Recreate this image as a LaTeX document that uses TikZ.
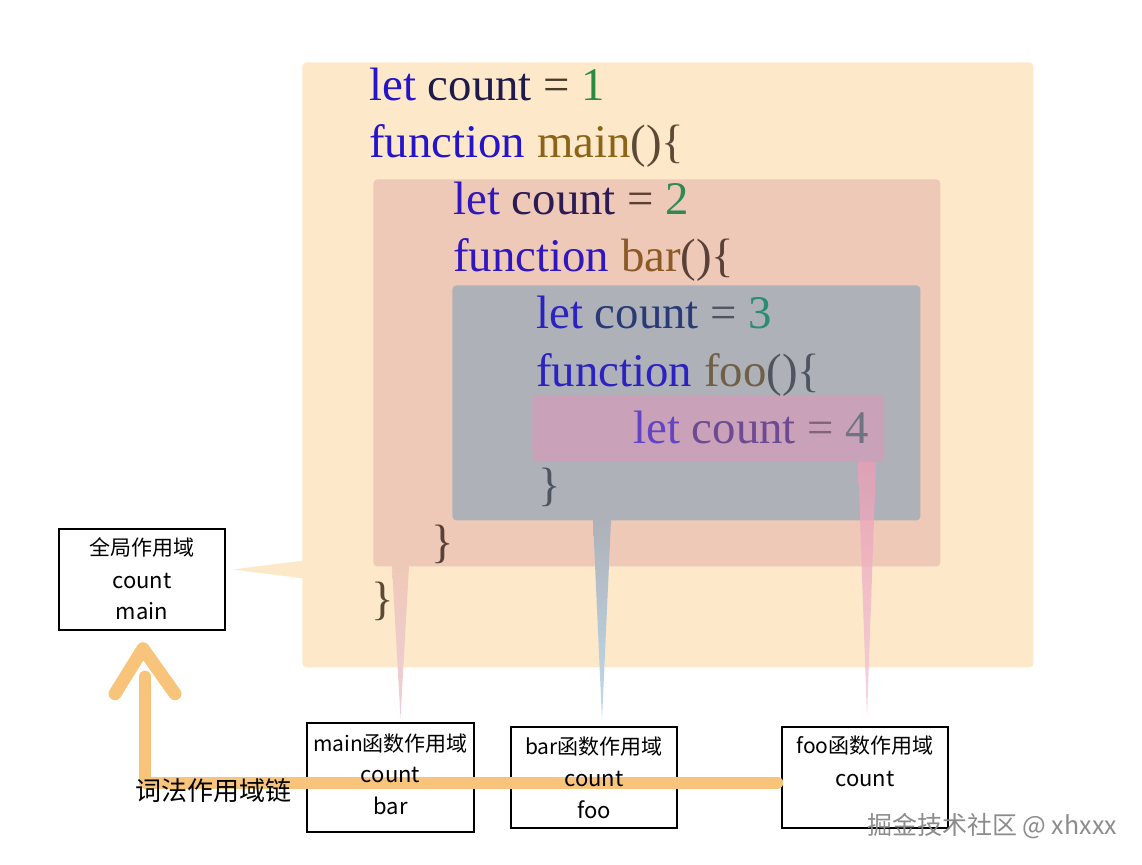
\documentclass[tikz,border=0pt]{standalone}
\usepackage{fontspec}
\setmainfont{Liberation Serif}
\newfontfamily\cjk{Noto Sans CJK SC}
\usetikzlibrary{calc}
\definecolor{gscopec}{HTML}{FDE8C9}
\definecolor{mscopec}{HTML}{EFC9B7}
\definecolor{bscopec}{HTML}{AEB1B7}
\definecolor{fscopec}{HTML}{C9A1B9}
\definecolor{mtailc}{HTML}{EDCFDA}
\definecolor{btailc}{HTML}{BFDCEF}
\definecolor{ftailc}{HTML}{EA9EB5}
\definecolor{ftailend}{HTML}{F2CCDA}
\definecolor{chainc}{HTML}{F8C47C}
\definecolor{markc}{HTML}{8C8C8C}
\definecolor{kwA}{HTML}{2414CC}\definecolor{varA}{HTML}{1E1A4A}\definecolor{opA}{HTML}{4A3A2A}
\definecolor{numA}{HTML}{2A8A3E}\definecolor{fnA}{HTML}{8C6418}\definecolor{parA}{HTML}{5C4A34}
\definecolor{kwB}{HTML}{3016BE}\definecolor{varB}{HTML}{2C1A52}\definecolor{opB}{HTML}{5A4030}
\definecolor{numB}{HTML}{2E8A52}\definecolor{fnB}{HTML}{8C5A26}\definecolor{parB}{HTML}{5A4036}
\definecolor{kwC}{HTML}{2C22C2}\definecolor{varC}{HTML}{2A3A78}\definecolor{opC}{HTML}{4E5460}
\definecolor{numC}{HTML}{2A8C72}\definecolor{fnC}{HTML}{706048}\definecolor{parC}{HTML}{4E5460}
\definecolor{kwD}{HTML}{6444C4}\definecolor{varD}{HTML}{6E4A92}\definecolor{opD}{HTML}{806478}
\definecolor{numD}{HTML}{6E7482}
\tikzset{
  scopebox/.style={anchor=north west, inner sep=0pt, rounded corners=2pt},
  codeline/.style={anchor=base west, inner sep=0pt, font=\fontsize{23.4}{28}\selectfont},
  fnbox/.style={draw, line width=0.7pt, inner sep=0pt, minimum width=83pt, minimum height=50.5pt},
  fntitle/.style={inner sep=0pt, font=\cjk\fontsize{10.5}{12}\selectfont},
  fnvar/.style={inner sep=0pt, font=\cjk\fontsize{11}{13}\selectfont},
  chain/.style={draw=chainc, line width=6pt, line cap=round, line join=round}
}
\begin{document}
\begin{tikzpicture}[x=0.5pt,y=-0.5pt]
\useasboundingbox (0,0) rectangle (1142,864);
% scopes
\node[scopebox, fill=gscopec, minimum width=365.5pt, minimum height=302.5pt] (gscope) at (302,62) {};
\node[scopebox, fill=mscopec, minimum width=283.5pt, minimum height=193.5pt] (mscope) at (373,179) {};
\node[scopebox, fill=bscopec, minimum width=234pt, minimum height=117.5pt] (bscope) at (452,285) {};
\node[scopebox, fill=fscopec, minimum width=176pt, minimum height=33pt] (fscope) at (532,395) {};
\node[fnbox] (globalbox) at (142,579.5) {};
\node[fnbox, minimum width=83.5pt, minimum height=54.5pt] (mainfn) at (390.5,777.5) {};
\node[fnbox] (barfn) at (594,777.5) {};
\node[fnbox] (foofn) at (865,777.5) {};
% tails
\coordinate (gtip) at ($(globalbox.east)+(7,-10)$);
\coordinate (mtip) at ($(mainfn.north)+(10,-4)$);
\coordinate (btip) at ($(barfn.north)+(8,-6)$);
\coordinate (ftip) at ($(foofn.north)+(2,-8)$);
\fill[gscopec] (gtip) -- ([xshift=1pt,yshift=4.5pt]gtip -| gscope.west) -- ([xshift=1pt,yshift=-4.5pt]gtip -| gscope.west) -- cycle;
\shade[top color=mscopec, bottom color=mtailc] ([xshift=-4.25pt,yshift=0.5pt]mtip |- mscope.south) -- ([xshift=4.25pt,yshift=0.5pt]mtip |- mscope.south) -- (mtip) -- cycle;
\shade[top color=bscopec, bottom color=btailc] ([xshift=-4.5pt,yshift=0.5pt]btip |- bscope.south) -- ([xshift=4.5pt,yshift=0.5pt]btip |- bscope.south) -- (btip) -- cycle;
\shade[top color=ftailc, bottom color=ftailend, opacity=.8] ([xshift=-4.5pt]ftip |- fscope.south) -- ([xshift=4.5pt]ftip |- fscope.south) -- (ftip) -- cycle;
% code
\node[codeline] (l1) at (369,100) {\textcolor{kwA}{let} \textcolor{varA}{count} \textcolor{opA}{=} \textcolor{numA}{1}};
\node[codeline] (l2) at (369,157.2) {\textcolor{kwA}{function} \textcolor{fnA}{main}\textcolor{parA}{()\{}};
\node[codeline] (l3) at (453,214.4) {\textcolor{kwB}{let} \textcolor{varB}{count} \textcolor{opB}{=} \textcolor{numB}{2}};
\node[codeline] (l4) at (453,271.6) {\textcolor{kwB}{function} \textcolor{fnB}{bar}\textcolor{parB}{()\{}};
\node[codeline] (l5) at (536,328.8) {\textcolor{kwC}{let} \textcolor{varC}{count} \textcolor{opC}{=} \textcolor{numC}{3}};
\node[codeline] (l6) at (536,386) {\textcolor{kwC}{function} \textcolor{fnC}{foo}\textcolor{parC}{()\{}};
\node[codeline] (l7) at (633,443.2) {\textcolor{kwD}{let} \textcolor{varD}{count} \textcolor{opD}{=} \textcolor{numD}{4}};
\node[codeline, text=parC] (l8) at (538,500.4) {\}};
\node[codeline, text=parB] (l9) at (431,557.6) {\}};
\node[codeline, text=parA] (l10) at (371,614.8) {\}};
% scope chain
\coordinate (ctop) at ($(globalbox.south)+(3,46)$);
\draw[chain, line width=6.5pt] ($(ctop)+(-30,17)$) -- ($(ctop)+(-2,-28)$) -- ($(ctop)+(30,17)$);
\draw[white, line width=8pt, line cap=round] ($(ctop)+(0,12)$) -- (ctop);
\draw[chain] ([xshift=-2pt,yshift=-2.5pt]foofn.west) -| (ctop);
\node[inner sep=0pt, font=\cjk\fontsize{13}{15}\selectfont] (chainlabel) at (213,791) {词法作用域链};
% box texts
\node[fntitle] (gtitle) at ($(globalbox.north)+(0,19)$) {全局作用域};
\node[fnvar] (gcount) at ($(gtitle)+(0,34)$) {count};
\node[fnvar] (gmain) at ($(gcount)+(0,30)$) {main};
\node[fntitle] (maintitle) at ($(mainfn.north)+(0,21)$) {main函数作用域};
\node[fnvar] (maincount) at ($(maintitle)+(0,32)$) {count};
\node[fnvar] (mainbar) at ($(maincount)+(0,31)$) {bar};
\node[fntitle] (bartitle) at ($(barfn.north)+(0,20)$) {bar函数作用域};
\node[fnvar] (barcount) at ($(bartitle)+(0,33)$) {count};
\node[fnvar] (barfoo) at ($(barcount)+(0,30)$) {foo};
\node[fntitle] (footitle) at ($(foofn.north)+(0,19)$) {foo函数作用域};
\node[fnvar] (foocount) at ($(footitle)+(0,34)$) {count};
\node[inner sep=0pt, text=markc, font=\cjk\fontsize{12.5}{14}\selectfont] (mark) at (992,826) {掘金技术社区 @ xhxxx};
\end{tikzpicture}
\end{document}
